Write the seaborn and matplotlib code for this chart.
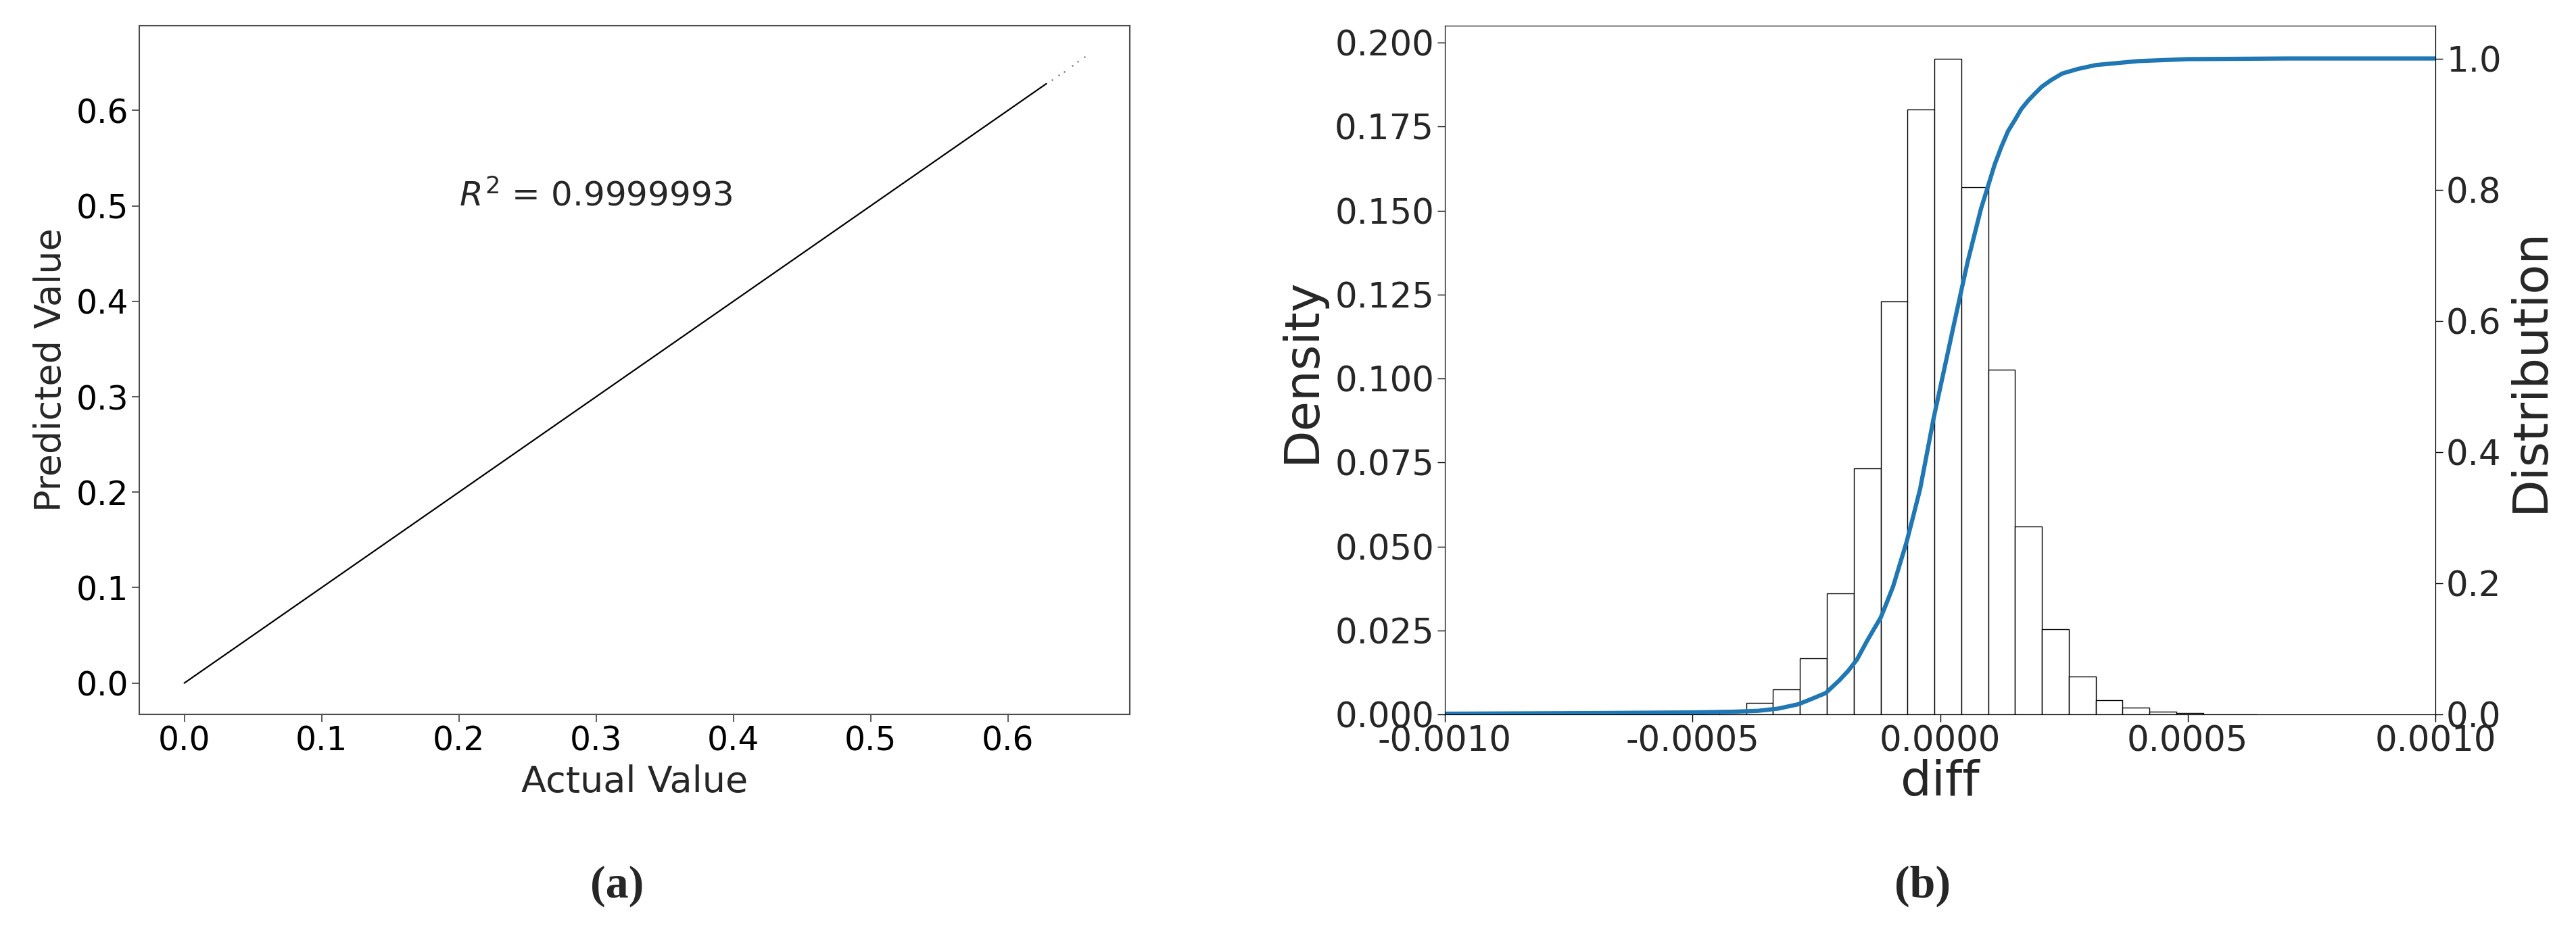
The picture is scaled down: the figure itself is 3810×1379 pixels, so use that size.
import numpy as np
import seaborn as sns
import matplotlib.pyplot as plt
from matplotlib.ticker import FormatStrFormatter

sns.set_style('white')
plt.rcParams['font.family'] = ['DejaVu Sans']
plt.rcParams['axes.unicode_minus'] = True

# (a) actual vs predicted
actual_value = [0.0, 0.1, 0.2, 0.3, 0.4, 0.5, 0.6, 0.628]
predicted_value = [0.0, 0.1, 0.2, 0.3, 0.4, 0.5, 0.6, 0.628]
tail_actual = [0.632, 0.637, 0.641, 0.647, 0.651, 0.656]
tail_predicted = [0.632, 0.637, 0.641, 0.647, 0.651, 0.656]
r2_text = r'$R^2$ = 0.9999993'

# (b) histogram of diff (share of samples per bin) + cumulative distribution
bin_edges = [-0.0005545, -0.0005002, -0.0004459, -0.0003916, -0.0003373,
             -0.0002830, -0.0002287, -0.0001744, -0.0001201, -0.0000658,
             -0.0000115, 0.0000428, 0.0000971, 0.0001514, 0.0002057,
             0.0002600, 0.0003143, 0.0003686, 0.0004229, 0.0004772,
             0.0005315, 0.0005858, 0.0006401]
bin_share = [0.0002, 0.0006, 0.0013, 0.0034, 0.0075, 0.0168, 0.0360, 0.0732,
             0.1230, 0.1802, 0.1953, 0.1570, 0.1026, 0.0559, 0.0253, 0.0112,
             0.0043, 0.0020, 0.0009, 0.0004, 0.0001, 0.00005]
cdf_x = [-0.0010, -0.0007, -0.0005, -0.00042, -0.000368, -0.000327, -0.000286,
         -0.000259, -0.000231, -0.000204, -0.000186, -0.000168, -0.000149,
         -0.000136, -0.00012, -0.000109, -0.0000949, -0.0000813, -0.0000676,
         -0.000054, -0.0000403, -0.0000266, -0.000013, 0.0000007, 0.0000143,
         0.000028, 0.0000416, 0.0000553, 0.0000689, 0.0000826, 0.0000962,
         0.00011, 0.0001235, 0.000137, 0.0001508, 0.000164, 0.0001781,
         0.000192, 0.0002054, 0.000224, 0.0002464, 0.000278, 0.0003146,
         0.0004, 0.0005, 0.0007, 0.0010]
cdf_y = [0.001, 0.002, 0.003, 0.004, 0.0054, 0.0088, 0.0155, 0.0237, 0.0325,
         0.0515, 0.066, 0.0834, 0.110, 0.127, 0.1475, 0.168, 0.195, 0.229,
         0.263, 0.303, 0.344, 0.398, 0.452, 0.4997, 0.547, 0.595, 0.642,
         0.689, 0.730, 0.771, 0.804, 0.838, 0.865, 0.889, 0.906, 0.923,
         0.936, 0.947, 0.957, 0.967, 0.977, 0.984, 0.990, 0.996, 0.999,
         1.0, 1.0]

fig = plt.figure(figsize=(38.1, 13.79), dpi=100)
ax1 = fig.add_axes([206 / 3810, 1 - 1057 / 1379, 1465 / 3810, 1019 / 1379])
ax2 = fig.add_axes([2137 / 3810, 1 - 1057 / 1379, 1465 / 3810, 1019 / 1379])

# ---- (a)
sns.lineplot(x=actual_value, y=predicted_value, ax=ax1, color='black',
             linewidth=1.6, estimator=None, sort=False)
sns.scatterplot(x=tail_actual, y=tail_predicted, ax=ax1, color='0.4',
                s=3, linewidth=0)
ax1.text(0.2, 0.5, r2_text, fontsize=36)
ax1.set_xticks([0.0, 0.1, 0.2, 0.3, 0.4, 0.5, 0.6])
ax1.set_yticks([0.0, 0.1, 0.2, 0.3, 0.4, 0.5, 0.6])
ax1.xaxis.set_major_formatter(FormatStrFormatter('%.1f'))
ax1.yaxis.set_major_formatter(FormatStrFormatter('%.1f'))
ax1.tick_params(labelsize=35, length=8, width=1.3, color='0.3',
                labelcolor='black', left=True, bottom=True)
ax1.set_xlabel('Actual Value', fontsize=39, labelpad=7)
ax1.set_ylabel('Predicted Value', fontsize=39, labelpad=8)
for sp in ax1.spines.values():
    sp.set_color('0.3')
    sp.set_linewidth(1.5)

# ---- (b)
centers = [(bin_edges[i] + bin_edges[i + 1]) / 2 for i in range(len(bin_share))]
sns.histplot(x=centers, weights=bin_share, bins=bin_edges, stat='count',
             ax=ax2, color='white', edgecolor='black', linewidth=1.0, alpha=1)
ax2.set_xlim(-0.001, 0.001)
ax2.set_xticks([-0.001, -0.0005, 0.0, 0.0005, 0.001])
ax2.xaxis.set_major_formatter(FormatStrFormatter('%.4f'))
ax2.set_yticks([0.0, 0.025, 0.05, 0.075, 0.1, 0.125, 0.15, 0.175, 0.2])
ax2.yaxis.set_major_formatter(FormatStrFormatter('%.3f'))
ax2.tick_params(labelsize=37, length=8, width=1, color='black',
                left=True, bottom=True)
ax2.set_xlabel('diff', fontsize=52, labelpad=0)
ax2.set_ylabel('Density', fontsize=52, labelpad=10)

ax3 = ax2.twinx()
sns.lineplot(x=cdf_x, y=cdf_y, ax=ax3, color='#1f77b4', linewidth=4.5,
             estimator=None, sort=False)
ax3.set_ylim(0, 1.05)
ax3.set_xlim(-0.001, 0.001)
ax3.set_yticks([0.0, 0.2, 0.4, 0.6, 0.8, 1.0])
ax3.yaxis.set_major_formatter(FormatStrFormatter('%.1f'))
ax3.tick_params(labelsize=37, length=8, width=1, color='black', right=True)
ax3.set_ylabel('Distribution', fontsize=52, labelpad=6)
for a in (ax2, ax3):
    for sp in a.spines.values():
        sp.set_color('black')
        sp.set_linewidth(0.8)

fig.text(913 / 3810, 1 - 1311 / 1379, '(a)', ha='center', va='center',
         fontsize=49, fontweight='bold', family='Liberation Serif')
fig.text(2844 / 3810, 1 - 1311 / 1379, '(b)', ha='center', va='center',
         fontsize=49, fontweight='bold', family='Liberation Serif')

fig.savefig('out.png', dpi=100, facecolor='white')
